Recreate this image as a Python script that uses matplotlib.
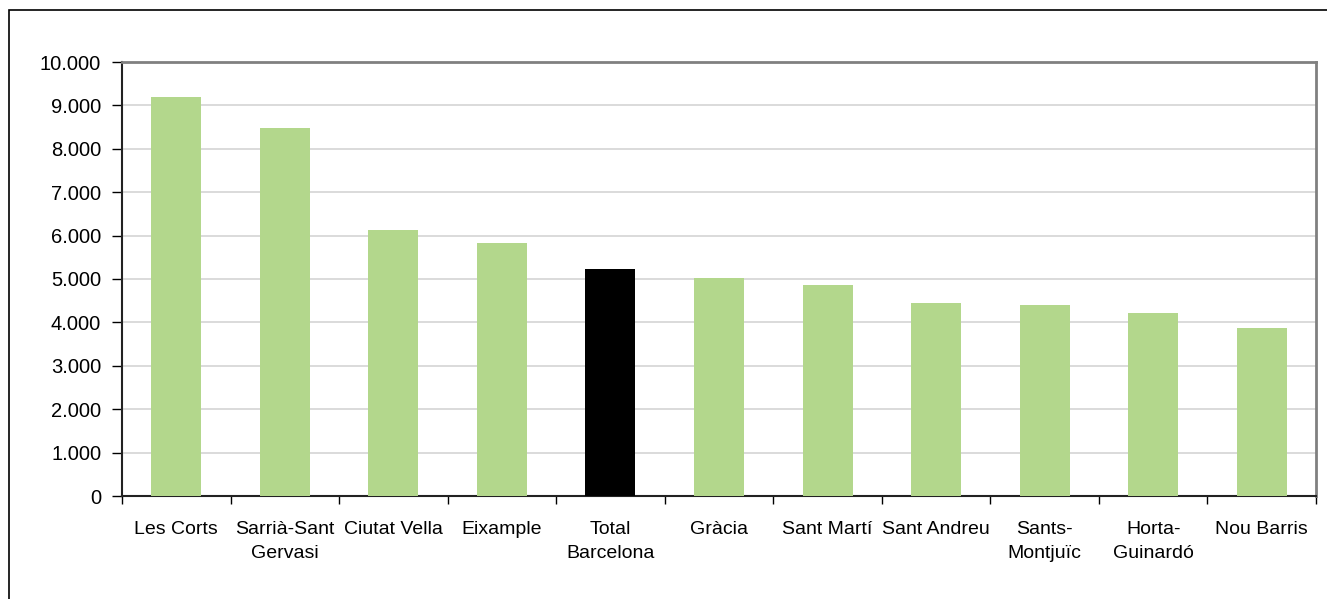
import matplotlib
matplotlib.use("Agg")
import matplotlib.pyplot as plt
from matplotlib.patches import Rectangle
from matplotlib.ticker import FuncFormatter, FixedLocator
import numpy as np

categories = ["Les Corts", "Sarrià-Sant\nGervasi", "Ciutat Vella", "Eixample", "Total\nBarcelona",
              "Gràcia", "Sant Martí", "Sant Andreu", "Sants-\nMontjuïc", "Horta-\nGuinardó", "Nou Barris"]
values = [9200, 8480, 6130, 5840, 5240, 5030, 4870, 4450, 4400, 4220, 3870]
highlight = "Total\nBarcelona"
y_ticks = [0, 1000, 2000, 3000, 4000, 5000, 6000, 7000, 8000, 9000, 10000]

plt.rcParams['font.family'] = ['Liberation Sans', 'DejaVu Sans']

fig = plt.figure(figsize=(13.27, 5.99), dpi=100)
ax = fig.add_axes([122/1327, 103/599, (1316-122)/1327, (496-62)/599])

x = np.arange(len(categories))
colors = ['#000000' if c == highlight else '#b3d78c' for c in categories]
ax.bar(x, values, width=0.46, color=colors, zorder=3)

ax.set_xlim(-0.5, len(categories) - 0.5)
ax.set_ylim(0, 10000)
ax.set_yticks(y_ticks)
ax.yaxis.set_major_formatter(FuncFormatter(lambda v, p: f"{int(v):,}".replace(",", ".")))
ax.grid(axis='y', color='#d4d4d4', linewidth=1.2, zorder=0)

ax.xaxis.set_major_locator(FixedLocator(np.arange(-0.5, len(categories), 1.0)))
ax.xaxis.set_major_formatter(plt.NullFormatter())
ax.xaxis.set_minor_locator(FixedLocator(x))
ax.set_xticklabels(categories, minor=True)
ax.tick_params(axis='x', which='major', length=6, width=1, color='#000000', direction='out')
ax.tick_params(axis='x', which='minor', length=0, pad=18, labelsize=14)
ax.tick_params(axis='y', length=7, width=1, color='#000000', direction='out', labelsize=14.5, pad=8)
for lbl in ax.get_xticklabels(minor=True):
    lbl.set_linespacing(1.55)

for side in ['left', 'bottom']:
    ax.spines[side].set_color('#222222')
    ax.spines[side].set_linewidth(1.5)
for side in ['top', 'right']:
    ax.spines[side].set_color('#808080')
    ax.spines[side].set_linewidth(2)

fig.patches.append(Rectangle((9/1327, -0.5), 1.5, 0.5 + (599-10)/599, transform=fig.transFigure,
                             fill=False, edgecolor='#000000', linewidth=1.2))

fig.savefig("out.png", dpi=100)
